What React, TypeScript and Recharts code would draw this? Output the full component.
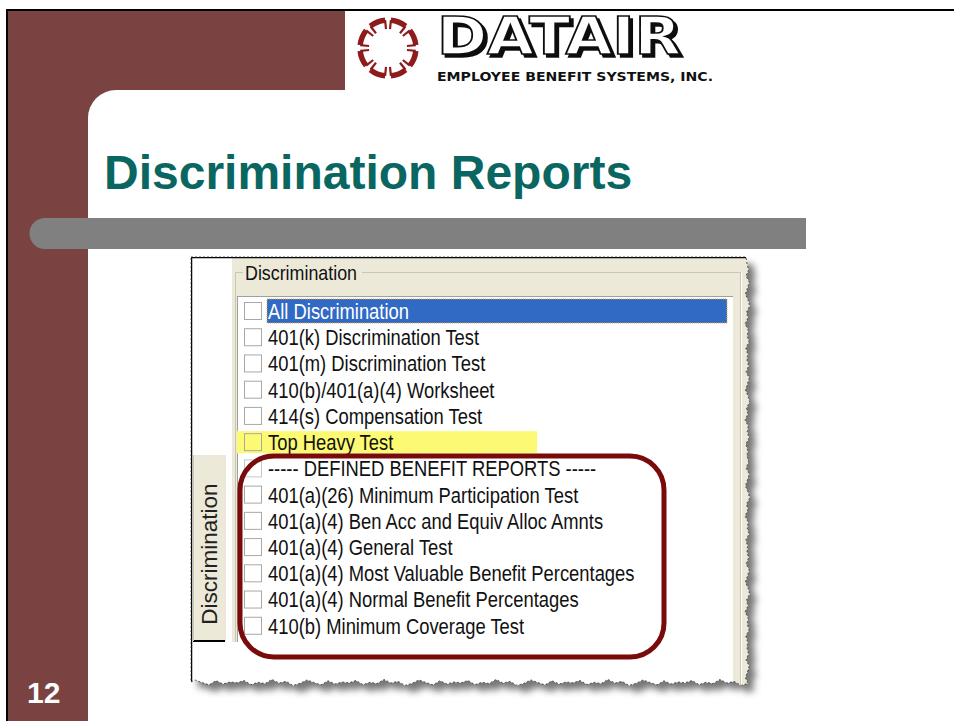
import React from "react";
import { BarChart, Bar, XAxis, YAxis, Cell, LabelList } from "recharts";

// list entries shown in the Discrimination report picker
const reports = [
  "All Discrimination",
  "401(k) Discrimination Test",
  "401(m) Discrimination Test",
  "410(b)/401(a)(4) Worksheet",
  "414(s) Compensation Test",
  "Top Heavy Test",
  "----- DEFINED BENEFIT REPORTS -----",
  "401(a)(26) Minimum Participation Test",
  "401(a)(4) Ben Acc and Equiv Alloc Amnts",
  "401(a)(4) General Test",
  "401(a)(4) Most Valuable Benefit Percentages",
  "401(a)(4) Normal Benefit Percentages",
  "410(b) Minimum Coverage Test",
];
// "sel" = selected row (blue), "mark" = yellow highlight
const rowState = ["sel", "", "", "", "", "mark", "", "", "", "", "", "", ""];
// how far the row highlight runs, % of list width
const highlight = [100, 0, 0, 0, 0, 61, 0, 0, 0, 0, 0, 0, 0];

const rows = reports.map((name, i) => ({
  name,
  state: rowState[i],
  highlight: highlight[i],
}));

const ARIAL = "'Liberation Sans', Arial, sans-serif";
const MAROON = "#7a4341";
const BEIGE = "#ece9d8";

// torn-paper wobble, reused along the edges
const wobble = [0, 1.5, -1, 2.2, 0.4, -1.6, 1, 2.6, -0.5, 0.8, -2, 1.2, 0.2, 2, -1.2, 0.6];

function tornPath() {
  let d = "M191 257 L746 257";
  let k = 0;
  for (let y = 264; y <= 680; y += 6) {
    d += ` L${747 + wobble[k++ % wobble.length]} ${y}`;
  }
  for (let x = 748; x >= 191; x -= 7) {
    d += ` L${x} ${682 + wobble[k++ % wobble.length] * 1.3}`;
  }
  return d + " L191 682 Z";
}

// condensed look of the old Windows dialog font
function Narrow({ x, y, size, sx, fill, children }: any) {
  return (
    <text
      transform={`translate(${x} ${y}) scale(${sx} 1)`}
      dy="0.36em"
      fontFamily={ARIAL}
      fontSize={size}
      fill={fill}
    >
      {children}
    </text>
  );
}

function Emblem() {
  const cx = 388;
  const cy = 48;
  const segs = [];
  for (let i = 0; i < 8; i++) {
    const a0 = ((i * 45 + 6) * Math.PI) / 180;
    const a1 = ((i * 45 + 39) * Math.PI) / 180;
    const r = 28;
    const ri = 19;
    const p = (a: number, rr: number) =>
      `${(cx + rr * Math.cos(a)).toFixed(1)} ${(cy + rr * Math.sin(a)).toFixed(1)}`;
    segs.push(
      <g key={i} stroke="#8e1b1b" fill="none">
        <path d={`M${p(a0, r)} A${r} ${r} 0 0 1 ${p(a1, r)}`} strokeWidth={5.5} />
        <path d={`M${p(a0, r)} L${p(a0, ri)}`} strokeWidth={2.2} />
        <path d={`M${p(a1, r)} L${p(a1, ri)}`} strokeWidth={2.2} />
      </g>
    );
  }
  return <g>{segs}</g>;
}

function renderHighlight(props: any) {
  const { x, y, width, height, index, fill } = props;
  if (!width || width <= 0) return <g />;
  if (rowState[index] === "sel") {
    return (
      <rect
        x={x + 27}
        y={y}
        width={width - 27}
        height={height}
        fill={fill}
        stroke="#e9a23b"
        strokeDasharray="1 1"
      />
    );
  }
  return <rect x={x - 5} y={y + 1} width={width + 5} height={height - 2} fill={fill} />;
}

function renderRow(props: any) {
  const vb = props.viewBox || props;
  const { x, y, height } = vb;
  const idx = reports.indexOf(props.value);
  const cy = y + height / 2;
  const sel = rowState[idx] === "sel";
  return (
    <g>
      <rect
        x={x + 4.5}
        y={cy - 8.5}
        width={17}
        height={17}
        fill="none"
        stroke={idx === 6 ? "#c8c8c8" : "#a8a8a8"}
      />
      <Narrow x={x + 28} y={cy} size={22} sx={0.836} fill={sel ? "#ffffff" : "#111111"}>
        {props.value}
      </Narrow>
    </g>
  );
}

export default function App() {
  const torn = tornPath();
  return (
    <div
      style={{
        position: "absolute",
        left: 0,
        top: 0,
        width: 954,
        height: 721,
        background: "#fff",
        overflow: "hidden",
      }}
    >
      <svg width={954} height={721} style={{ position: "absolute", left: 0, top: 0 }}>
        <defs>
          <filter id="blur" x="-10%" y="-10%" width="120%" height="120%">
            <feGaussianBlur stdDeviation="3.5" />
          </filter>
          <filter id="logoShadow" x="-5%" y="-5%" width="115%" height="130%">
            <feDropShadow dx="3" dy="3" stdDeviation="0" floodColor="#111" floodOpacity="1" />
          </filter>
          <clipPath id="shot">
            <path d={torn} />
          </clipPath>
        </defs>

        {/* slide frame */}
        <rect x={8} y={11} width={80} height={710} fill={MAROON} />
        <rect x={8} y={11} width={337} height={110} fill={MAROON} />
        <rect x={88} y={90} width={900} height={700} rx={28} fill="#fff" />
        <rect x={6} y={9} width={948} height={2} fill="#000" />
        <rect x={6} y={9} width={2} height={712} fill="#000" />
        <path d="M806 218 L45 218 A15.5 15.5 0 0 0 45 249 L806 249 Z" fill="#808080" />

        {/* logo */}
        <Emblem />
        <text
          x={437}
          y={54}
          fontFamily="'DejaVu Sans', sans-serif"
          fontWeight="bold"
          fontSize={52}
          textLength={244}
          lengthAdjust="spacingAndGlyphs"
          fill="#fff"
          stroke="#111"
          strokeWidth={1.6}
          filter="url(#logoShadow)"
        >
          DATAIR
        </text>
        <text
          x={437}
          y={81}
          fontFamily="'DejaVu Sans', sans-serif"
          fontWeight="bold"
          fontSize={13}
          textLength={276}
          lengthAdjust="spacingAndGlyphs"
          fill="#111"
        >
          EMPLOYEE BENEFIT SYSTEMS, INC.
        </text>

        <text x={104} y={189} fontFamily={ARIAL} fontWeight="bold" fontSize={48} fill="#0a6660">
          Discrimination Reports
        </text>
        <text x={27} y={703} fontFamily={ARIAL} fontWeight="bold" fontSize={30} fill="#fff">
          12
        </text>

        {/* screenshot */}
        <path d={torn} transform="translate(7 7)" fill="#555" opacity={0.8} filter="url(#blur)" />
        <path d={torn} fill="#fff" />
        <g clipPath="url(#shot)">
          <rect x={232} y={258} width={520} height={384} fill={BEIGE} />
          <rect x={733} y={258} width={20} height={440} fill={BEIGE} />
          <rect x={193} y={455} width={33} height={186} fill={BEIGE} />
          <rect x={193} y={640} width={32} height={2} fill="#000" />
          <line x1={226.5} y1={455} x2={226.5} y2={641} stroke="#fff" />
          <line x1={193.5} y1={455} x2={193.5} y2={641} stroke="#c9c6b6" />
          <line x1={235.5} y1={272.5} x2={243} y2={272.5} stroke="#c9c6b6" />
          <line x1={362} y1={272.5} x2={741} y2={272.5} stroke="#c9c6b6" />
          <line x1={741.5} y1={272.5} x2={741.5} y2={698} stroke="#fff" />
          <line x1={740.5} y1={272.5} x2={740.5} y2={698} stroke="#c9c6b6" />
          <line x1={235.5} y1={272.5} x2={235.5} y2={642} stroke="#c9c6b6" />
          <rect x={237} y={296} width={496} height={410} fill="#fff" />
          <line x1={237} y1={296.5} x2={733} y2={296.5} stroke="#a0a0a0" />
          <line x1={237.5} y1={296} x2={237.5} y2={642} stroke="#a0a0a0" />
          <line x1={191} y1={257.5} x2={746} y2={257.5} stroke="#000" strokeWidth={1.5} />
          <line x1={191.5} y1={257} x2={191.5} y2={684} stroke="#000" strokeWidth={1.5} />
          <Narrow x={245} y={272} size={21} sx={0.85} fill="#111">
            Discrimination
          </Narrow>
          <text
            x={209}
            y={554}
            transform="rotate(-90 209 554)"
            textAnchor="middle"
            dy="0.36em"
            fontFamily={ARIAL}
            fontSize={22.5}
            fill="#222"
          >
            Discrimination
          </text>
        </g>
        <path d={torn} fill="none" stroke="#333" strokeWidth={0.8} strokeDasharray="2 2" />
      </svg>

      <div style={{ position: "absolute", left: 237, top: 297 }}>
        <BarChart
          width={500}
          height={343}
          data={rows}
          layout="vertical"
          margin={{ top: 1, right: 10, bottom: 1, left: 3 }}
          barCategoryGap={1}
        >
          <XAxis type="number" domain={[0, 100]} hide />
          <YAxis type="category" dataKey="name" hide />
          <Bar dataKey="highlight" isAnimationActive={false} shape={renderHighlight}>
            {rows.map((r, i) => (
              <Cell
                key={i}
                fill={r.state === "sel" ? "#316ac5" : r.state === "mark" ? "#fbfa72" : "none"}
              />
            ))}
            <LabelList dataKey="name" content={renderRow} />
          </Bar>
        </BarChart>
      </div>

      <svg
        width={954}
        height={721}
        style={{ position: "absolute", left: 0, top: 0, pointerEvents: "none" }}
      >
        <rect
          x={240}
          y={456}
          width={424}
          height={201}
          rx={34}
          fill="none"
          stroke="#7a0b0b"
          strokeWidth={5}
        />
      </svg>
    </div>
  );
}
